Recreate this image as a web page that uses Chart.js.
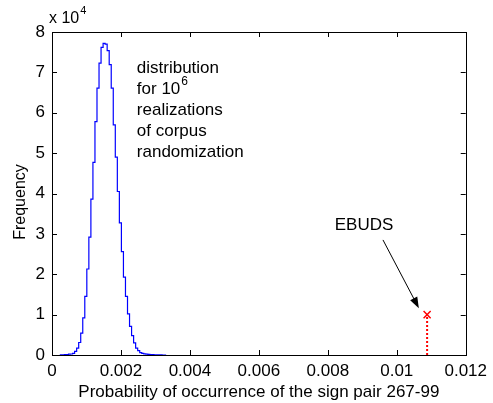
<!DOCTYPE html>
<html>
<head>
<meta charset="utf-8">
<script src="https://cdn.jsdelivr.net/npm/chart.js@4.4.1/dist/chart.umd.min.js"></script>
<style>
  html, body { margin: 0; padding: 0; background: #fff; }
</style>
</head>
<body>
<canvas id="hist" width="493" height="403"></canvas>
<script>
// histogram bin left edges (last entry is the right edge of the last bin)
const binEdges = [
  0.000243, 0.000302, 0.000361, 0.000420, 0.000479, 0.000538, 0.000597, 0.000656,
  0.000715, 0.000774, 0.000833, 0.000892, 0.000951, 0.001010, 0.001069, 0.001128,
  0.001187, 0.001246, 0.001305, 0.001364, 0.001423, 0.001482, 0.001541, 0.001600,
  0.001659, 0.001718, 0.001777, 0.001836, 0.001895, 0.001954, 0.002013, 0.002072,
  0.002131, 0.002190, 0.002249, 0.002308, 0.002367, 0.002426, 0.002485, 0.002544,
  0.002603, 0.002662, 0.002721, 0.002780, 0.002839, 0.002898, 0.002957, 0.003016,
  0.003075, 0.003134, 0.003193, 0.003252, 0.003311
];
const counts = [
  20, 30, 50, 80, 130, 200, 250, 400,
  900, 1700, 3100, 5400, 9200, 14500, 21300, 29200,
  38600, 47700, 57800, 66100, 72300, 76200, 77200, 77000,
  75400, 71900, 66100, 57000, 49000, 40500, 32700, 25600,
  19300, 14500, 10200, 7100, 4800, 3000, 1700, 1100,
  600, 400, 300, 200, 150, 100, 70, 50,
  30, 20, 10, 5
];
const ebudsX = [0.01088];
const ebudsY = [10000];
const xTicks = [0, 0.002, 0.004, 0.006, 0.008, 0.01, 0.012];
const yTicks = [0, 10000, 20000, 30000, 40000, 50000, 60000, 70000, 80000];

const FONT = "'Liberation Sans', Arial, sans-serif";

const histPoints = binEdges.map((x, i) => ({ x: x, y: counts[Math.min(i, counts.length - 1)] }));
const markerPoints = ebudsX.map((x, i) => ({ x: x, y: ebudsY[i] }));
const stemPoints = [{ x: ebudsX[0], y: 0 }, { x: ebudsX[0], y: ebudsY[0] }];

const frame = {
  id: "frame",
  afterDatasetsDraw(chart) {
    const { ctx, chartArea: a, scales: { x, y } } = chart;
    ctx.save();
    ctx.strokeStyle = "#000";
    ctx.lineWidth = 1;
    ctx.strokeRect(Math.round(a.left) + 0.5, Math.round(a.top) + 0.5,
      Math.round(a.right - a.left), Math.round(a.bottom - a.top));
    const tl = 5;
    ctx.beginPath();
    xTicks.forEach(v => {
      const px = Math.round(x.getPixelForValue(v)) + 0.5;
      ctx.moveTo(px, a.bottom); ctx.lineTo(px, a.bottom - tl);
      ctx.moveTo(px, a.top); ctx.lineTo(px, a.top + tl);
    });
    yTicks.forEach(v => {
      const py = Math.round(y.getPixelForValue(v)) + 0.5;
      ctx.moveTo(a.left, py); ctx.lineTo(a.left + tl, py);
      ctx.moveTo(a.right, py); ctx.lineTo(a.right - tl, py);
    });
    ctx.stroke();

    ctx.fillStyle = "#000";

    // y axis label, a bit below the axis centre like the original
    ctx.save();
    ctx.font = "16px " + FONT;
    ctx.textAlign = "center";
    ctx.textBaseline = "middle";
    ctx.translate(21, 202);
    ctx.rotate(-Math.PI / 2);
    ctx.fillText("Frequency", 0, 0);
    ctx.restore();

    // exponent above y axis
    ctx.textBaseline = "alphabetic";
    ctx.textAlign = "left";
    ctx.font = "16px " + FONT;
    ctx.fillText("x 10", 49, 23);
    const w = ctx.measureText("x 10").width;
    ctx.font = "11px " + FONT;
    ctx.fillText("4", 49 + w + 1, 14);

    // text annotation
    ctx.font = "17px " + FONT;
    ctx.textBaseline = "middle";
    const tx = x.getPixelForValue(0.00246);
    const lines = ["distribution", "for 10", "realizations", "of corpus", "randomization"];
    lines.forEach((s, i) => {
      const ty = y.getPixelForValue(71000) + i * 21;
      ctx.fillText(s, tx, ty);
      if (i === 1) {
        const sw = ctx.measureText(s).width;
        ctx.font = "12px " + FONT;
        ctx.fillText("6", tx + sw + 1, ty - 8);
        ctx.font = "17px " + FONT;
      }
    });

    ctx.textAlign = "center";
    ctx.fillText("EBUDS", x.getPixelForValue(0.00905), y.getPixelForValue(32200));

    // arrow
    const x0 = x.getPixelForValue(0.0096), y0 = y.getPixelForValue(28500);
    const x1 = x.getPixelForValue(0.01064), y1 = y.getPixelForValue(11600);
    const ang = Math.atan2(y1 - y0, x1 - x0);
    ctx.beginPath();
    ctx.moveTo(x0, y0);
    ctx.lineTo(x1 - 9 * Math.cos(ang), y1 - 9 * Math.sin(ang));
    ctx.stroke();
    ctx.beginPath();
    ctx.moveTo(x1, y1);
    ctx.lineTo(x1 - 11 * Math.cos(ang) + 4 * Math.sin(ang), y1 - 11 * Math.sin(ang) - 4 * Math.cos(ang));
    ctx.lineTo(x1 - 11 * Math.cos(ang) - 4 * Math.sin(ang), y1 - 11 * Math.sin(ang) + 4 * Math.cos(ang));
    ctx.closePath();
    ctx.fill();
    ctx.restore();
  }
};

new Chart(document.getElementById("hist"), {
  type: "line",
  data: {
    datasets: [
      {
        data: histPoints,
        stepped: "after",
        borderColor: "#0000ff",
        borderWidth: 1.2,
        pointRadius: 0,
        fill: false
      },
      {
        data: stemPoints,
        borderColor: "#ff0000",
        borderWidth: 2,
        borderDash: [2, 2],
        pointRadius: 0,
        fill: false
      },
      {
        data: markerPoints,
        showLine: false,
        pointStyle: "crossRot",
        pointRadius: 5,
        borderColor: "#ff0000",
        borderWidth: 1.5
      }
    ]
  },
  options: {
    responsive: false,
    animation: false,
    layout: { padding: { top: 32, right: 26, left: 0, bottom: 0 } },
    plugins: { legend: { display: false }, tooltip: { enabled: false } },
    scales: {
      x: {
        type: "linear",
        min: 0,
        max: 0.012,
        grid: { display: false, drawTicks: false },
        border: { display: false },
        afterBuildTicks: s => { s.ticks = xTicks.map(v => ({ value: v })); },
        afterFit: s => { s.height = 48; },
        ticks: {
          padding: 6,
          color: "#000",
          font: { family: FONT, size: 17 },
          maxRotation: 0,
          callback: v => String(parseFloat(v.toFixed(4)))
        },
        title: {
          display: true,
          text: "Probability of occurrence of the sign pair 267-99",
          color: "#000",
          font: { family: FONT, size: 17 },
          padding: { top: 0, bottom: 0 }
        }
      },
      y: {
        min: 0,
        max: 80000,
        grid: { display: false, drawTicks: false },
        border: { display: false },
        afterBuildTicks: s => { s.ticks = yTicks.map(v => ({ value: v })); },
        afterFit: s => { s.width = 52; },
        ticks: {
          padding: 7,
          color: "#000",
          font: { family: FONT, size: 17 },
          callback: v => String(v / 10000)
        }
      }
    }
  },
  plugins: [frame]
});
</script>
</body>
</html>
